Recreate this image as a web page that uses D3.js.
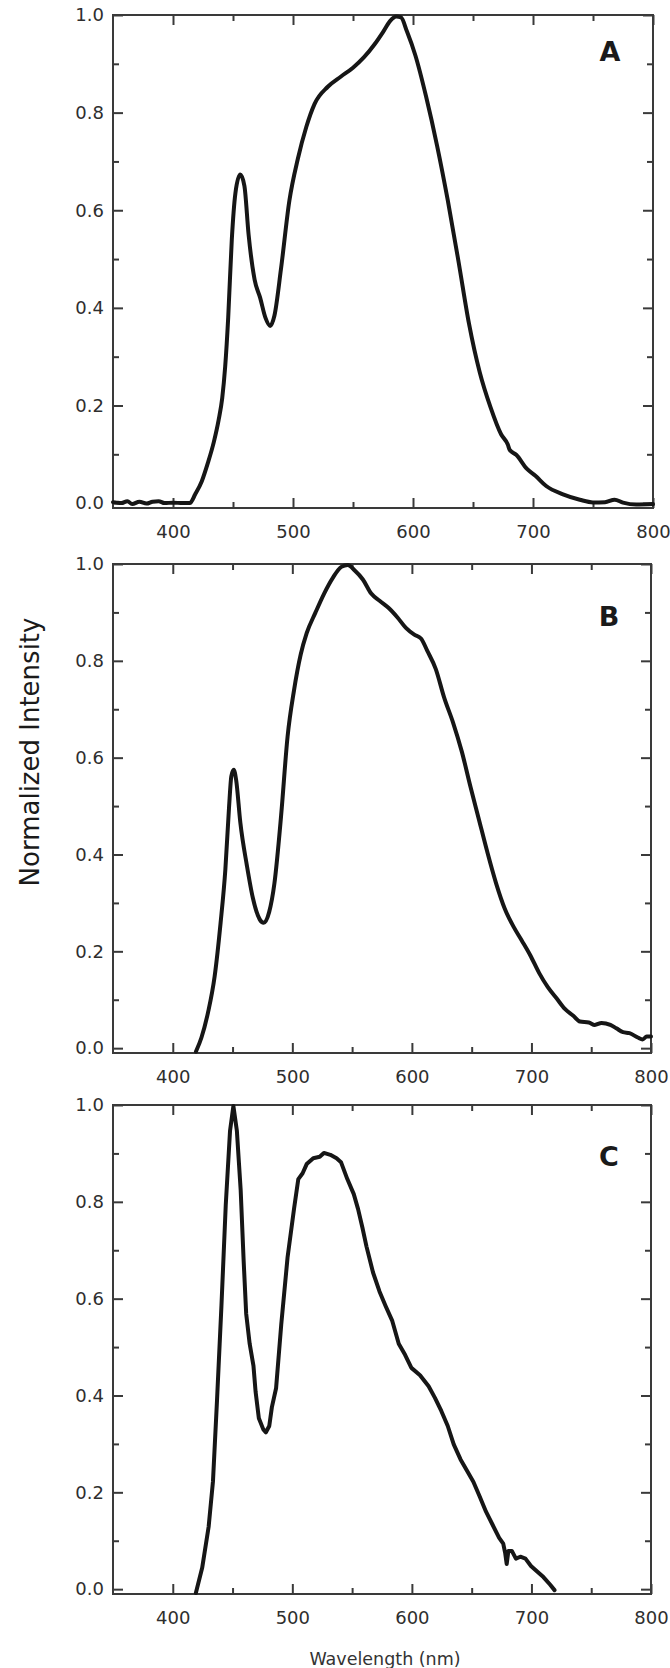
<!DOCTYPE html>
<html>
<head>
<meta charset="utf-8">
<script src="https://cdn.jsdelivr.net/npm/d3@7/dist/d3.min.js"></script>
<style>
  html, body { margin: 0; padding: 0; background: #fff; }
  svg { display: block; }
  .tick text { font-family: "DejaVu Sans", Verdana, sans-serif; font-size: 18px; fill: #2e2e2e; }
</style>
</head>
<body>
<svg id="chart" width="670" height="1668"></svg>
<script>
// ---------- data ----------
const xTicksMajor = [400, 500, 600, 700, 800];
const xTicksMinor = [450, 550, 650, 750];
const yTicksMajor = [0, 0.2, 0.4, 0.6, 0.8, 1.0];
const yTicksMinor = [0.1, 0.3, 0.5, 0.7, 0.9];
const panelLabels = ["A", "B", "C"];

const wavelengthA = [350, 353, 357, 362, 366, 372, 378, 383, 388, 393, 400, 408, 414,
  418.5, 424, 429, 434, 438, 441, 443.5, 446, 449, 452, 456, 459.5, 463, 468, 472.7, 477, 481,
  484.5, 490, 497, 504, 511, 518, 529, 540, 550, 559, 568, 575, 581, 586, 590, 595, 602, 611,
  620, 629, 638, 646.7, 655.6, 664.5, 673.4, 679, 680.6, 686, 695, 702, 711, 725, 739, 750,
  760, 768, 775, 786, 800];
const intensityA = [0.002, 0.001, 0.0, 0.004, -0.002, 0.003, -0.001, 0.003, 0.004, 0.0, 0.001, 0.0, 0.0,
  0.018, 0.045, 0.082, 0.125, 0.17, 0.215, 0.28, 0.38, 0.54, 0.635, 0.673, 0.65, 0.55, 0.458, 0.42, 0.38, 0.363,
  0.384, 0.48, 0.62, 0.705, 0.77, 0.818, 0.853, 0.874, 0.892, 0.913, 0.94, 0.965, 0.988, 0.997, 0.995, 0.966, 0.917, 0.832,
  0.733, 0.62, 0.494, 0.367, 0.268, 0.197, 0.141, 0.12, 0.109, 0.099, 0.07, 0.056, 0.035, 0.018, 0.007, 0.0015,
  0.002, 0.007, 0.001, -0.003, -0.002];

const wavelengthB = [419.4, 424, 429.5, 435, 440, 444, 447, 449, 451, 453, 456.5, 462, 467, 472.7, 476,
  480.6, 485, 490.6, 496, 501.4, 507, 512, 519.4, 526.6, 534, 541, 546.4, 552, 559, 566, 573,
  580.6, 587.8, 595, 602, 607.6, 613, 620, 627, 634.5, 641.7, 649, 656, 663, 670.5, 677.7, 685,
  692, 699, 706.5, 713.7, 721, 728, 735, 740.6, 748, 753, 758.6, 766, 771, 776.6, 782, 789, 793,
  796.4, 800];
const intensityB = [-0.007, 0.022, 0.074, 0.148, 0.259, 0.37, 0.495, 0.562, 0.575, 0.554, 0.466, 0.377, 0.31, 0.266, 0.259,
  0.281, 0.34, 0.48, 0.643, 0.739, 0.813, 0.857, 0.9, 0.939, 0.972, 0.994, 0.998, 0.987, 0.968, 0.939, 0.924,
  0.909, 0.89, 0.868, 0.854, 0.846, 0.82, 0.783, 0.724, 0.672, 0.613, 0.54, 0.473, 0.406, 0.34, 0.288, 0.251,
  0.222, 0.192, 0.155, 0.126, 0.103, 0.081, 0.067, 0.055, 0.053, 0.048, 0.052, 0.048, 0.041, 0.033, 0.031, 0.022, 0.018,
  0.024, 0.024];

const wavelengthC = [419.3, 424.6, 430, 433.6, 437, 440.7, 444.3, 447.9, 450.7, 453.6, 456.8, 459.3, 461.4, 464.3,
  467.5, 469.3, 472, 475.7, 477.9, 480.7, 482.9, 486.4, 490.7, 496, 501.4, 505, 508.6, 512, 517.5,
  522.9, 526.4, 531.8, 537, 540.7, 546, 551.4, 555, 558.6, 562, 567.5, 572.9, 578, 583.6, 589,
  594.3, 599.6, 606.8, 614, 619.3, 624.6, 630, 635, 640.7, 646, 651.4, 656.8, 662, 667.5, 673,
  676.4, 678, 679.3, 680.7, 683.6, 687, 690.7, 695, 699.6, 705, 710, 715.7, 719.3];
const intensityC = [-0.008, 0.044, 0.129, 0.222, 0.39, 0.585, 0.793, 0.947, 0.998, 0.947, 0.824, 0.677, 0.569, 0.507,
  0.461, 0.407, 0.353, 0.33, 0.324, 0.337, 0.376, 0.415, 0.546, 0.685, 0.785, 0.847, 0.859, 0.878, 0.89,
  0.893, 0.901, 0.897, 0.89, 0.882, 0.847, 0.816, 0.785, 0.747, 0.708, 0.654, 0.615, 0.585, 0.554, 0.507,
  0.484, 0.457, 0.442, 0.419, 0.395, 0.368, 0.337, 0.299, 0.268, 0.245, 0.222, 0.191, 0.16, 0.133, 0.106,
  0.094, 0.075, 0.052, 0.079, 0.079, 0.063, 0.067, 0.063, 0.048, 0.036, 0.025, 0.009, -0.002];

const xLabel = "Wavelength (nm)";
const yLabel = "Normalized Intensity";

// ---------- layout ----------
const panels = [
  { label: panelLabels[0], wl: wavelengthA, val: intensityA, top: 15, bottom: 508, left: 113, right: 653, lab: [610, 51], curve: d3.curveMonotoneX },
  { label: panelLabels[1], wl: wavelengthB, val: intensityB, top: 564, bottom: 1053, left: 113, right: 651, lab: [609, 616], curve: d3.curveMonotoneX },
  { label: panelLabels[2], wl: wavelengthC, val: intensityC, top: 1105, bottom: 1594, left: 113, right: 651, lab: [609, 1156], curve: d3.curveLinear }
];

const svg = d3.select("#chart");
const frameColor = "#3a3a3a";

panels.forEach(p => {
  const x = d3.scaleLinear().domain([350, 800]).range([p.left, p.right]);
  const y = d3.scaleLinear().domain([-0.01, 1.0]).range([p.bottom, p.top]);
  const g = svg.append("g");

  const style = sel => {
    sel.select(".domain").remove();
    sel.selectAll(".tick line").attr("stroke", frameColor).attr("stroke-width", 2);
  };

  // bottom axis (labels) + minor
  g.append("g").attr("transform", `translate(0,${p.bottom})`)
    .call(d3.axisBottom(x).tickValues(xTicksMajor).tickSize(-10).tickPadding(17).tickFormat(d3.format("d")))
    .call(style);
  g.append("g").attr("transform", `translate(0,${p.bottom})`)
    .call(d3.axisBottom(x).tickValues(xTicksMinor).tickSize(-6).tickFormat(""))
    .call(style);
  // top axis
  g.append("g").attr("transform", `translate(0,${p.top})`)
    .call(d3.axisTop(x).tickValues(xTicksMajor).tickSize(-10).tickFormat(""))
    .call(style);
  g.append("g").attr("transform", `translate(0,${p.top})`)
    .call(d3.axisTop(x).tickValues(xTicksMinor).tickSize(-6).tickFormat(""))
    .call(style);
  // left axis
  g.append("g").attr("transform", `translate(${p.left},0)`)
    .call(d3.axisLeft(y).tickValues(yTicksMajor).tickSize(-10).tickPadding(9).tickFormat(d3.format(".1f")))
    .call(style);
  g.append("g").attr("transform", `translate(${p.left},0)`)
    .call(d3.axisLeft(y).tickValues(yTicksMinor).tickSize(-6).tickFormat(""))
    .call(style);
  // right axis
  g.append("g").attr("transform", `translate(${p.right},0)`)
    .call(d3.axisRight(y).tickValues(yTicksMajor).tickSize(-10).tickFormat(""))
    .call(style);
  g.append("g").attr("transform", `translate(${p.right},0)`)
    .call(d3.axisRight(y).tickValues(yTicksMinor).tickSize(-6).tickFormat(""))
    .call(style);

  // frame
  g.append("rect")
    .attr("x", p.left).attr("y", p.top)
    .attr("width", p.right - p.left).attr("height", p.bottom - p.top)
    .attr("fill", "none").attr("stroke", frameColor).attr("stroke-width", 2);

  // curve
  const pts = p.wl.map((w, i) => [w, p.val[i]]);
  const line = d3.line().x(d => x(d[0])).y(d => y(d[1])).curve(p.curve);
  g.append("path").datum(pts)
    .attr("d", line)
    .attr("fill", "none").attr("stroke", "#161616")
    .attr("stroke-width", 4).attr("stroke-linejoin", "round").attr("stroke-linecap", "round");

  // panel label
  g.append("text")
    .attr("x", p.lab[0]).attr("y", p.lab[1])
    .attr("text-anchor", "middle").attr("dominant-baseline", "central")
    .attr("font-family", "DejaVu Sans, Verdana, sans-serif")
    .attr("font-weight", "bold").attr("font-size", 27).attr("fill", "#1a1a1a")
    .text(p.label);
});

// axis titles
svg.append("text")
  .attr("transform", "translate(39,752) rotate(-90)")
  .attr("text-anchor", "middle")
  .attr("font-family", "DejaVu Sans, Verdana, sans-serif")
  .attr("font-size", 26).attr("fill", "#1a1a1a")
  .text(yLabel);

svg.append("text")
  .attr("x", 385).attr("y", 1665)
  .attr("text-anchor", "middle")
  .attr("font-family", "DejaVu Sans, Verdana, sans-serif")
  .attr("font-size", 17.5).attr("fill", "#333")
  .text(xLabel);
</script>
</body>
</html>
